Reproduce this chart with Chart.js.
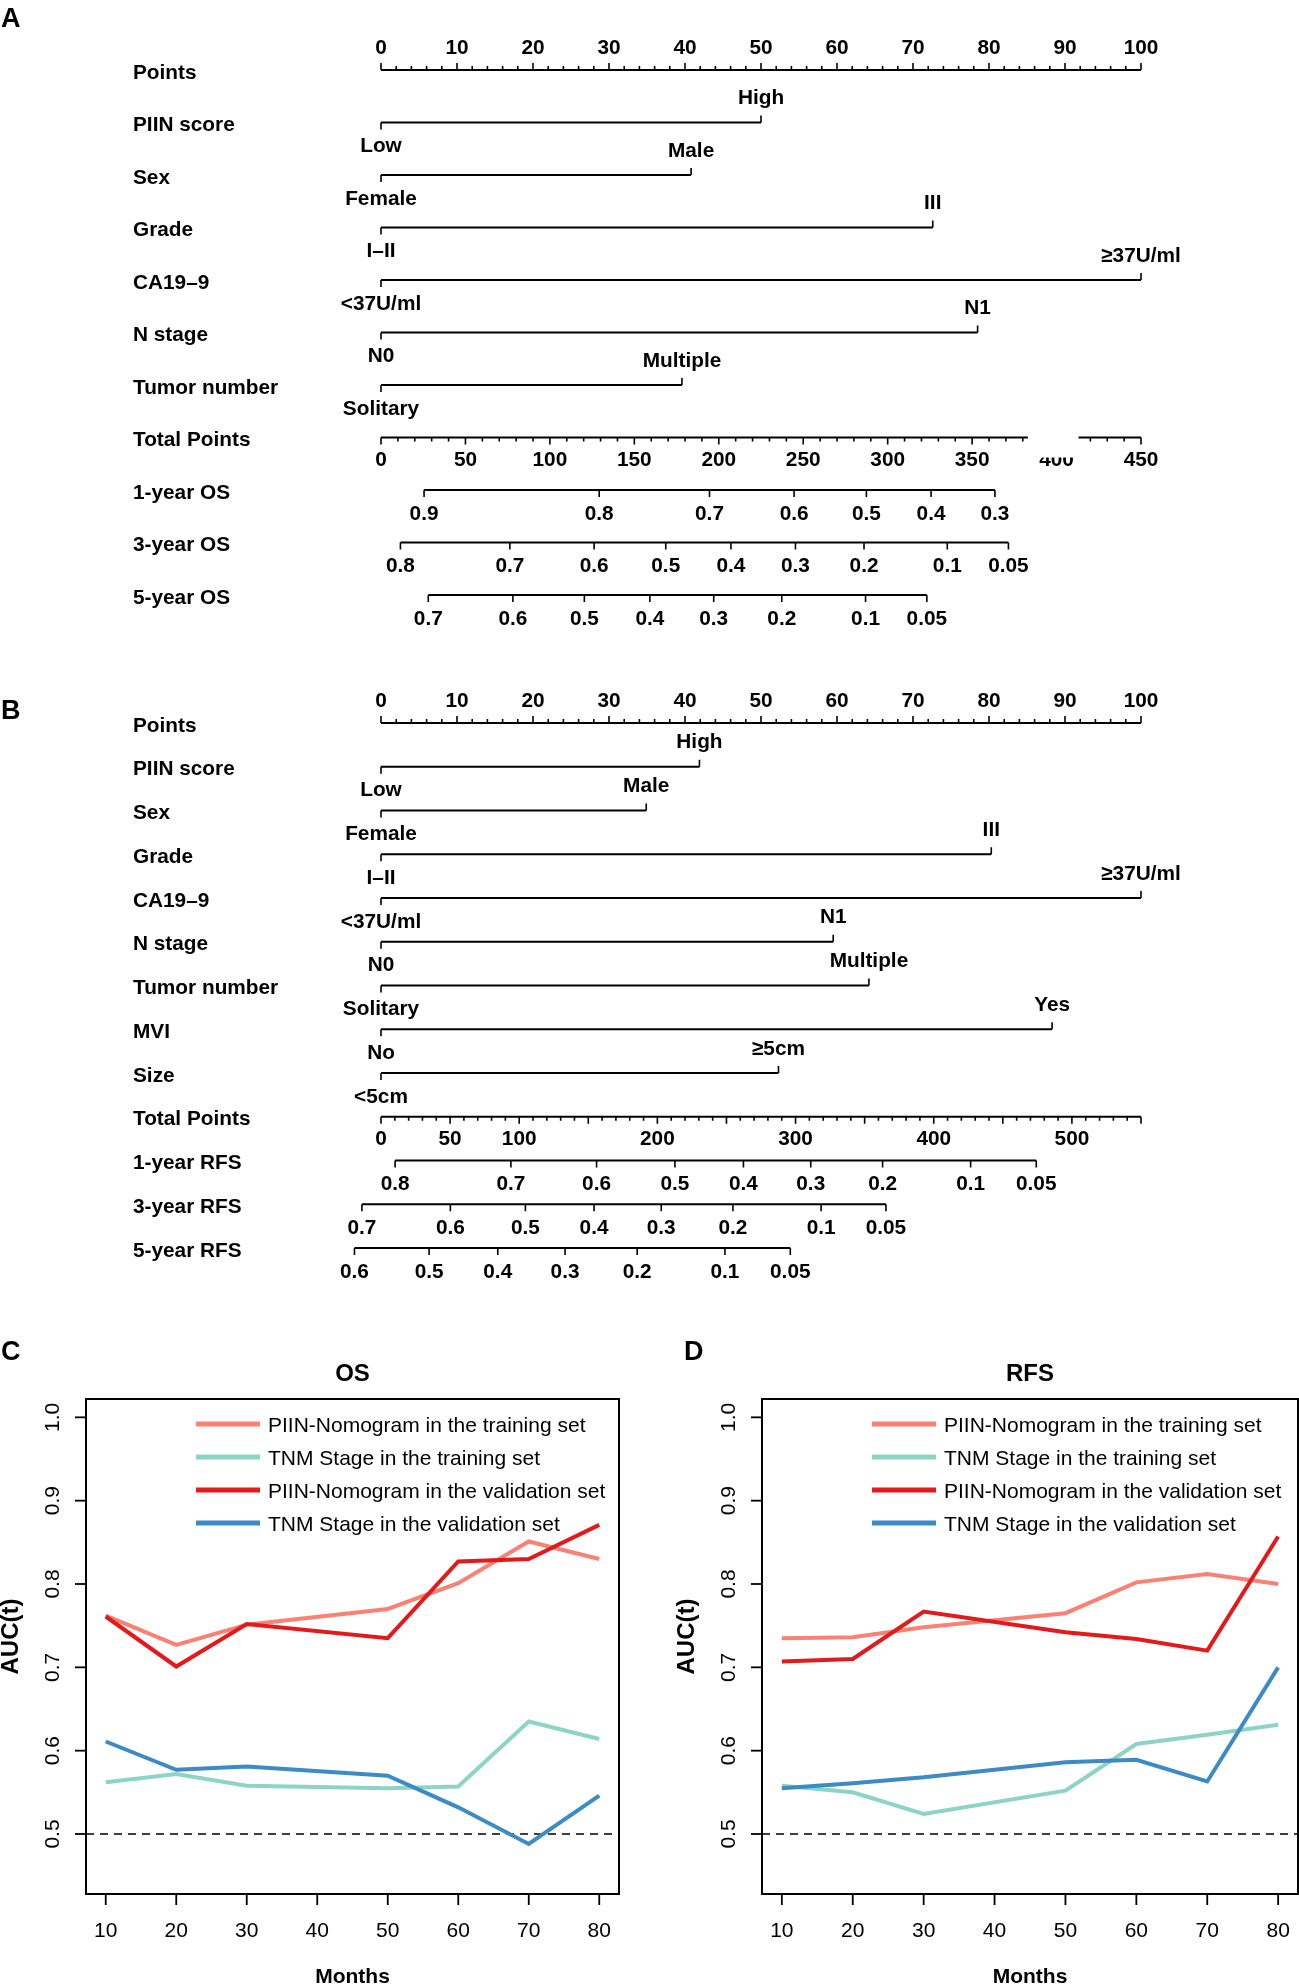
<!DOCTYPE html>
<html>
<head>
<meta charset="utf-8">
<title>PIIN nomogram and time-dependent AUC</title>
<script src="https://cdn.jsdelivr.net/npm/chart.js@4.4.1/dist/chart.umd.min.js"></script>
<style>
  body { margin: 0; background: #fff; width: 1299px; height: 1985px; position: relative; overflow: hidden; }
  canvas { position: absolute; }
</style>
</head>
<body>
<canvas id="nomoA" width="1299" height="660" style="left:0;top:0"></canvas>
<canvas id="nomoB" width="1299" height="660" style="left:0;top:640px"></canvas>
<canvas id="aucOS" width="650" height="655" style="left:0;top:1330px"></canvas>
<canvas id="aucRFS" width="649" height="655" style="left:650px;top:1330px"></canvas>
<script>
/* Nomograms (A: OS, B: RFS) and time-dependent AUC curves (C, D) */

const FONT = '"Liberation Sans", Arial, Helvetica, sans-serif';

// ---- panel A: OS nomogram ----
const pointsTicks = [0, 10, 20, 30, 40, 50, 60, 70, 80, 90, 100];
const nomoAVars = ['PIIN score', 'Sex', 'Grade', 'CA19–9', 'N stage', 'Tumor number'];
const nomoALow = ['Low', 'Female', 'I–II', '<37U/ml', 'N0', 'Solitary'];
const nomoAHigh = ['High', 'Male', 'III', '≥37U/ml', 'N1', 'Multiple'];
const nomoAPoints = [50, 40.8, 72.6, 100, 78.5, 39.6];
const totalMaxA = 450;
const totalLabelsA = [0, 50, 100, 150, 200, 250, 300, 350, 400, 450];
const os1Labels = ['0.9', '0.8', '0.7', '0.6', '0.5', '0.4', '0.3'];
const os1Totals = [25.5, 129.2, 194.5, 244.6, 287.4, 325.7, 363.5];
const os3Labels = ['0.8', '0.7', '0.6', '0.5', '0.4', '0.3', '0.2', '0.1', '0.05'];
const os3Totals = [11.5, 76.3, 126.2, 168.6, 207.2, 245.4, 286, 335.3, 371.5];
const os5Labels = ['0.7', '0.6', '0.5', '0.4', '0.3', '0.2', '0.1', '0.05'];
const os5Totals = [28, 78.1, 120.4, 159.2, 197, 237.3, 286.9, 323.2];

// ---- panel B: RFS nomogram ----
const nomoBVars = ['PIIN score', 'Sex', 'Grade', 'CA19–9', 'N stage', 'Tumor number', 'MVI', 'Size'];
const nomoBLow = ['Low', 'Female', 'I–II', '<37U/ml', 'N0', 'Solitary', 'No', '<5cm'];
const nomoBHigh = ['High', 'Male', 'III', '≥37U/ml', 'N1', 'Multiple', 'Yes', '≥5cm'];
const nomoBPoints = [41.9, 34.9, 80.3, 100, 59.5, 64.2, 88.3, 52.3];
const totalMaxB = 550;
const totalLabelsB = [0, 50, 100, 200, 300, 400, 500];
const rfs1Labels = ['0.8', '0.7', '0.6', '0.5', '0.4', '0.3', '0.2', '0.1', '0.05'];
const rfs1Totals = [10.2, 94, 156, 212.7, 262.3, 311, 363, 426.7, 474.2];
const rfs3Labels = ['0.7', '0.6', '0.5', '0.4', '0.3', '0.2', '0.1', '0.05'];
const rfs3Totals = [-13.8, 50.2, 104.5, 154.2, 202.8, 254.7, 318.5, 365.4];
const rfs5Labels = ['0.6', '0.5', '0.4', '0.3', '0.2', '0.1', '0.05'];
const rfs5Totals = [-19.2, 34.8, 84.5, 133.2, 185.4, 248.9, 296.2];

// ---- panels C, D: AUC(t) ----
const months = [10, 20, 30, 50, 60, 70, 80];
const monthTicks = [10, 20, 30, 40, 50, 60, 70, 80];
const aucTicks = [0.5, 0.6, 0.7, 0.8, 0.9, 1.0];
const seriesNames = ['PIIN-Nomogram in the training set', 'TNM Stage in the training set',
  'PIIN-Nomogram in the validation set', 'TNM Stage in the validation set'];
const seriesColors = ['#F98274', '#8ED4C6', '#E3191C', '#3C8BC4'];
const osTrainNomo = [0.762, 0.727, 0.751, 0.770, 0.801, 0.851, 0.830];
const osTrainTNM = [0.562, 0.572, 0.558, 0.555, 0.557, 0.635, 0.614];
const osValidNomo = [0.761, 0.701, 0.752, 0.735, 0.827, 0.830, 0.871];
const osValidTNM = [0.611, 0.577, 0.581, 0.570, 0.532, 0.488, 0.546];
const rfsTrainNomo = [0.735, 0.736, 0.748, 0.765, 0.802, 0.812, 0.800];
const rfsTrainTNM = [0.558, 0.550, 0.524, 0.552, 0.608, 0.619, 0.631];
const rfsValidNomo = [0.707, 0.710, 0.767, 0.742, 0.734, 0.720, 0.857];
const rfsValidTNM = [0.555, 0.561, 0.568, 0.586, 0.589, 0.563, 0.700];

// ---------------------------------------------------------------
function buildRows(vars, low, high, pts, totalMax, totalLabels, probs) {
  const rows = [{ kind: 'points', name: 'Points' }];
  vars.forEach((v, i) => rows.push({ kind: 'var', name: v, low: low[i], high: high[i], value: pts[i] }));
  rows.push({ kind: 'total', name: 'Total Points', max: totalMax, labels: totalLabels });
  probs.forEach(p => rows.push({ kind: 'prob', name: p.name, labels: p.labels, totals: p.totals }));
  return rows;
}

function nomogram(id, letter, rows, totalMax, pad, gap) {
  const toPts = t => t * 100 / totalMax;
  const black = { borderColor: '#000', borderWidth: 2, pointRadius: 0, showLine: true, clip: false };
  const datasets = rows.map((r, i) => {
    let xs;
    if (r.kind === 'points') xs = [0, 100];
    else if (r.kind === 'var') xs = [0, r.value];
    else if (r.kind === 'total') xs = [0, toPts(r.max)];
    else xs = [toPts(r.totals[0]), toPts(r.totals[r.totals.length - 1])];
    return Object.assign({ data: xs.map(x => ({ x: x, y: i })) }, black);
  });

  const deco = {
    id: 'nomoDeco',
    afterDatasetsDraw(chart) {
      const ctx = chart.ctx, xs = chart.scales.x, ys = chart.scales.y;
      const px = v => xs.getPixelForValue(v);
      const tick = (x, y, len) => { ctx.beginPath(); ctx.moveTo(x, y); ctx.lineTo(x, y + len); ctx.stroke(); };
      ctx.save();
      ctx.fillStyle = '#000';
      ctx.strokeStyle = '#000';
      ctx.lineWidth = 1.6;
      ctx.textBaseline = 'middle';
      ctx.textAlign = 'left';
      ctx.font = 'bold 27px ' + FONT;
      ctx.fillText(letter.text, 1, letter.y);
      ctx.font = 'bold 20.8px ' + FONT;
      rows.forEach((r, i) => {
        const y = ys.getPixelForValue(i);
        ctx.textAlign = 'left';
        ctx.fillText(r.name, 133, y + 3);
        ctx.textAlign = 'center';
        if (r.kind === 'points') {
          for (let v = 0; v <= 100; v += 2) tick(px(v), y, v % 10 === 0 ? -7 : -4);
          pointsTicks.forEach(v => ctx.fillText(String(v), px(v), y - 22));
        } else if (r.kind === 'var') {
          tick(px(0), y, 7);
          tick(px(r.value), y, -7);
          ctx.fillText(r.low, px(0), y + 24);
          ctx.fillText(r.high, px(r.value), y - 24);
        } else if (r.kind === 'total') {
          for (let v = 0; v <= r.max; v += 10) tick(px(toPts(v)), y, v % 50 === 0 ? 7 : 4);
          r.labels.forEach(v => ctx.fillText(String(v), px(toPts(v)), y + 23));
          if (gap) {
            ctx.fillStyle = '#fff';
            const x0 = px(toPts(gap[0])), x1 = px(toPts(gap[1]));
            ctx.fillRect(x0, y - 10, x1 - x0, 30);
            ctx.fillStyle = '#000';
          }
        } else {
          r.totals.forEach((t, k) => {
            tick(px(toPts(t)), y, 7);
            ctx.fillText(r.labels[k], px(toPts(t)), y + 24);
          });
        }
      });
      ctx.restore();
    }
  };

  return new Chart(document.getElementById(id), {
    type: 'scatter',
    data: { datasets: datasets },
    options: {
      responsive: false,
      animation: false,
      devicePixelRatio: 1,
      events: [],
      layout: { padding: pad },
      plugins: { legend: { display: false }, tooltip: { enabled: false } },
      scales: {
        x: { type: 'linear', min: 0, max: 100, display: false },
        y: { type: 'linear', min: 0, max: rows.length - 1, reverse: true, display: false }
      }
    },
    plugins: [deco]
  });
}

const rowsA = buildRows(nomoAVars, nomoALow, nomoAHigh, nomoAPoints, totalMaxA, totalLabelsA, [
  { name: '1-year OS', labels: os1Labels, totals: os1Totals },
  { name: '3-year OS', labels: os3Labels, totals: os3Totals },
  { name: '5-year OS', labels: os5Labels, totals: os5Totals }
]);
const rowsB = buildRows(nomoBVars, nomoBLow, nomoBHigh, nomoBPoints, totalMaxB, totalLabelsB, [
  { name: '1-year RFS', labels: rfs1Labels, totals: rfs1Totals },
  { name: '3-year RFS', labels: rfs3Labels, totals: rfs3Totals },
  { name: '5-year RFS', labels: rfs5Labels, totals: rfs5Totals }
]);

nomogram('nomoA', { text: 'A', y: 20 }, rowsA, totalMaxA,
  { left: 381, right: 158, top: 70, bottom: 65 }, [383, 413]);
nomogram('nomoB', { text: 'B', y: 72 }, rowsB, totalMaxB,
  { left: 381, right: 158, top: 83, bottom: 52 }, null);

// ---------------------------------------------------------------
function aucChart(id, letter, title, values, pad) {
  const datasets = values.map((vals, i) => ({
    data: months.map((m, k) => ({ x: m, y: vals[k] })),
    borderColor: seriesColors[i],
    borderWidth: 4,
    pointRadius: 0,
    showLine: true,
    order: 4 - i
  }));
  datasets.push({
    data: [{ x: 7.2, y: 0.5 }, { x: 82.8, y: 0.5 }],
    borderColor: '#000', borderWidth: 1.6, borderDash: [8, 6],
    pointRadius: 0, showLine: true, order: 5
  });

  const deco = {
    id: 'aucDeco',
    afterDatasetsDraw(chart) {
      const ctx = chart.ctx, a = chart.chartArea, xs = chart.scales.x, ys = chart.scales.y;
      ctx.save();
      ctx.strokeStyle = '#000';
      ctx.fillStyle = '#000';
      ctx.lineWidth = 2;
      ctx.strokeRect(a.left, a.top, a.right - a.left, a.bottom - a.top);
      ctx.lineWidth = 1.8;
      ctx.font = '21px ' + FONT;
      ctx.textBaseline = 'middle';
      ctx.textAlign = 'center';
      monthTicks.forEach(m => {
        const x = xs.getPixelForValue(m);
        ctx.beginPath(); ctx.moveTo(x, a.bottom); ctx.lineTo(x, a.bottom + 11); ctx.stroke();
        ctx.fillText(String(m), x, a.bottom + 37);
      });
      aucTicks.forEach(v => {
        const y = ys.getPixelForValue(v);
        ctx.beginPath(); ctx.moveTo(a.left, y); ctx.lineTo(a.left - 11, y); ctx.stroke();
        ctx.save();
        ctx.translate(a.left - 33, y);
        ctx.rotate(-Math.PI / 2);
        ctx.fillText(v.toFixed(1), 0, 0);
        ctx.restore();
      });
      ctx.font = 'bold 21px ' + FONT;
      ctx.fillText('Months', (a.left + a.right) / 2, a.bottom + 83);
      ctx.save();
      ctx.font = 'bold 24px ' + FONT;
      ctx.translate(a.left - 75, (a.top + a.bottom) / 2 - 10);
      ctx.rotate(-Math.PI / 2);
      ctx.fillText('AUC(t)', 0, 0);
      ctx.restore();
      ctx.font = 'bold 24px ' + FONT;
      ctx.fillText(title, (a.left + a.right) / 2, a.top - 25);
      ctx.font = 'bold 27px ' + FONT;
      ctx.textAlign = 'left';
      ctx.fillText(letter.text, letter.x, a.top - 46);
      // legend
      ctx.font = '21px ' + FONT;
      seriesNames.forEach((name, i) => {
        const y = a.top + 25 + i * 33;
        ctx.strokeStyle = seriesColors[i];
        ctx.lineWidth = 5;
        ctx.beginPath(); ctx.moveTo(a.left + 110, y); ctx.lineTo(a.left + 174, y); ctx.stroke();
        ctx.fillText(name, a.left + 182, y + 2);
      });
      ctx.restore();
    }
  };

  return new Chart(document.getElementById(id), {
    type: 'scatter',
    data: { datasets: datasets },
    options: {
      responsive: false,
      animation: false,
      devicePixelRatio: 1,
      events: [],
      layout: { padding: pad },
      plugins: { legend: { display: false }, tooltip: { enabled: false } },
      scales: {
        x: { type: 'linear', min: 7.2, max: 82.8, display: false },
        y: { type: 'linear', min: 0.428, max: 1.022, display: false }
      }
    },
    plugins: [deco]
  });
}

aucChart('aucOS', { text: 'C', x: 1 }, 'OS',
  [osTrainNomo, osTrainTNM, osValidNomo, osValidTNM],
  { left: 86, right: 31, top: 69, bottom: 91 });
aucChart('aucRFS', { text: 'D', x: 34 }, 'RFS',
  [rfsTrainNomo, rfsTrainTNM, rfsValidNomo, rfsValidTNM],
  { left: 112, right: 1, top: 69, bottom: 91 });
</script>
</body>
</html>
